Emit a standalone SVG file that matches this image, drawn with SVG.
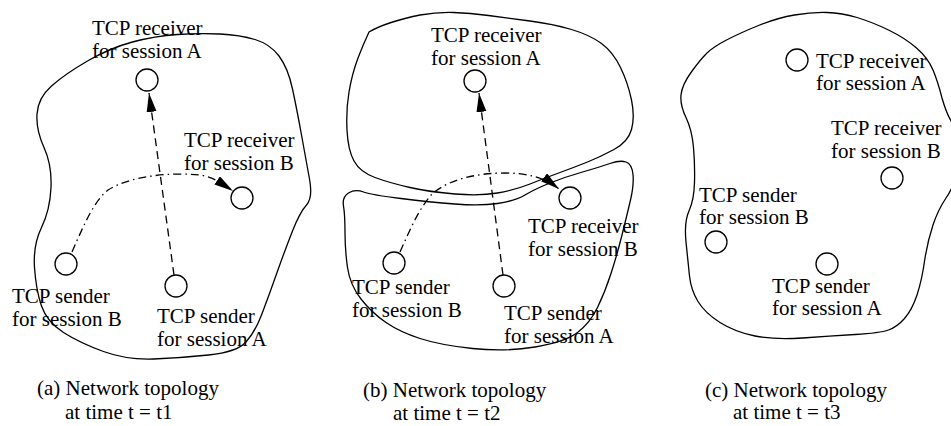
<svg xmlns="http://www.w3.org/2000/svg" width="951" height="426" viewBox="0 0 951 426">
<style>
.region{fill:none;stroke:#000;stroke-width:1.3;stroke-linejoin:round}
.node{fill:#fff;stroke:#000;stroke-width:1.3}
.lbl{font-family:"Liberation Serif","Times New Roman",serif;font-size:21px;fill:#000}
.dash{fill:none;stroke:#000;stroke-width:1.3;stroke-dasharray:8,5}
.dashdot{fill:none;stroke:#000;stroke-width:1.3;stroke-dasharray:8,4,1.5,4}
</style>
<defs>
<marker id="arr" markerUnits="userSpaceOnUse" markerWidth="20" markerHeight="12" refX="19" refY="5" orient="auto">
<path d="M0,0 L19,5 L0,10 Z" fill="#000"/>
</marker>
</defs>
<rect width="951" height="426" fill="#fff"/>

<g id="regions">
<path class="region" d="M 177.5,34.5 Q 200,33 220,34 Q 240,35 255,39.5 Q 270,44 279,56 Q 288,68 292.5,89 Q 297,110 301.5,135 Q 306,160 309.5,179 Q 313,198 306.5,205 Q 300,212 292.5,231 Q 285,250 276.5,274 Q 268,298 261.5,315 Q 255,332 246,342 Q 237,352 208.5,355 Q 180,358 153.5,359 Q 127,360 103.5,351.5 Q 80,343 63.5,332.5 Q 47,322 41.5,306 Q 36,290 34.5,267.5 Q 33,245 41.5,227.5 Q 50,210 51,187.5 Q 52,165 44,147.5 Q 36,130 37,114 Q 38,98 51.5,86 Q 65,74 87.5,61 Q 110,48 132.5,42 Q 155,36 177.5,34.5 Z"/>
<path class="region" d="M 369,32 Q 386,22 420,15 Q 437,12 453.5,12.5 Q 470,13 488.5,15.5 Q 507,18 530,21 Q 553,24 571.5,29.5 Q 590,35 601.5,43.5 Q 613,52 620.5,67.5 Q 628,83 631.5,100 Q 635,117 631.5,129.5 Q 628,142 614,149.5 Q 600,157 587.5,162 Q 575,167 560,172.5 Q 545,178 530,184 Q 515,190 497.5,193 Q 480,196 455,194 Q 430,192 410,187.5 Q 390,183 375,177.5 Q 360,172 354,161 Q 348,150 347,130 Q 346,110 349,92 Q 352,74 358,58 Q 363,45 369,32 Z"/>
<path class="region" d="M 348.5,193 Q 355,189 363.5,192 Q 372,195 401,198.5 Q 430,202 455,204 Q 480,206 497.5,203.5 Q 515,201 525,195 Q 535,189 550,183 Q 565,177 582.5,172 Q 600,167 610,163.5 Q 620,160 626,162 Q 632,164 633,174.5 Q 634,185 630.5,200 Q 627,215 622,235 Q 617,255 611,273.5 Q 605,292 597.5,307.5 Q 590,323 577.5,332.5 Q 565,342 535,347 Q 505,352 472.5,348.5 Q 440,345 420,338.5 Q 400,332 386,322.5 Q 372,313 361,299 Q 350,285 347.5,267.5 Q 345,250 345,232.5 Q 345,215 343.5,206 Q 342,197 348.5,193 Z"/>
<path class="region" d="M 726.5,40 Q 740,33 758.5,25.5 Q 777,18 794.5,15 Q 812,12 827,12.5 Q 842,13 857,17.5 Q 872,22 888.5,30 Q 905,38 916.5,48 Q 928,58 933,70 Q 938,82 942,98 Q 946,112 950.5,120 Q 956,130 957,145 Q 958,160 956,175 Q 953,188 946,198 Q 938,210 933,225 Q 928,240 925,258 Q 922,280 917,295 Q 912,310 904.5,318.5 Q 897,327 888.5,330 Q 880,333 855,334.5 Q 830,336 802.5,338 Q 775,340 755,336 Q 735,332 720,322.5 Q 705,313 698,301.5 Q 691,290 689.5,276 Q 688,262 686,242 Q 684,222 689,211 Q 694,200 694.5,182.5 Q 695,165 693.5,147.5 Q 692,130 686,117.5 Q 680,105 681,95 Q 682,85 691,72.5 Q 700,60 706.5,53.5 Q 713,47 726.5,40 Z"/>
</g>

<g id="connectors">
<path class="dash" d="M 174,275 L 149,93" marker-end="url(#arr)"/>
<path class="dashdot" d="M 72,252 C 85,222 95,200 108,190 C 130,176 170,172 200,175 C 214,177 224,185 233,191" marker-end="url(#arr)"/>
<path class="dash" d="M 503,275 L 479,93" marker-end="url(#arr)"/>
<path class="dashdot" d="M 400,252 C 410,230 418,210 432,194 C 448,180 475,173 505,173 C 528,173 545,178 559,189" marker-end="url(#arr)"/>
</g>

<g id="a-recvA"><circle class="node" cx="147" cy="80" r="11"/><text class="lbl" x="92" y="35">TCP receiver</text><text class="lbl" x="92" y="58">for session A</text></g>
<g id="a-recvB"><circle class="node" cx="242" cy="198" r="11"/><text class="lbl" x="184" y="147">TCP receiver</text><text class="lbl" x="184" y="170">for session B</text></g>
<g id="a-sendB"><circle class="node" cx="66" cy="264" r="11"/><text class="lbl" x="12" y="303">TCP sender</text><text class="lbl" x="12" y="326">for session B</text></g>
<g id="a-sendA"><circle class="node" cx="176" cy="286" r="11"/><text class="lbl" x="157" y="323">TCP sender</text><text class="lbl" x="157" y="346">for session A</text></g>

<g id="b-recvA"><circle class="node" cx="475" cy="81" r="11"/><text class="lbl" x="431" y="42">TCP receiver</text><text class="lbl" x="431" y="65">for session A</text></g>
<g id="b-recvB"><circle class="node" cx="570" cy="198" r="11"/><text class="lbl" x="528" y="233">TCP receiver</text><text class="lbl" x="528" y="256">for session B</text></g>
<g id="b-sendB"><circle class="node" cx="394" cy="263" r="11"/><text class="lbl" x="352" y="294">TCP sender</text><text class="lbl" x="352" y="317">for session B</text></g>
<g id="b-sendA"><circle class="node" cx="504" cy="286" r="11"/><text class="lbl" x="504" y="320">TCP sender</text><text class="lbl" x="504" y="343">for session A</text></g>

<g id="c-recvA"><circle class="node" cx="797" cy="60" r="11"/><text class="lbl" x="816" y="68">TCP receiver</text><text class="lbl" x="816" y="90">for session A</text></g>
<g id="c-recvB"><circle class="node" cx="892" cy="178" r="11"/><text class="lbl" x="831" y="135">TCP receiver</text><text class="lbl" x="831" y="158">for session B</text></g>
<g id="c-sendB"><circle class="node" cx="716" cy="242" r="11"/><text class="lbl" x="699" y="202">TCP sender</text><text class="lbl" x="699" y="224">for session B</text></g>
<g id="c-sendA"><circle class="node" cx="827" cy="264" r="11"/><text class="lbl" x="772" y="293">TCP sender</text><text class="lbl" x="772" y="315">for session A</text></g>

<g id="captions">
<text class="lbl" x="37" y="395">(a) Network topology</text><text class="lbl" x="65" y="419">at time t = t1</text>
<text class="lbl" x="363" y="397">(b) Network topology</text><text class="lbl" x="393" y="420">at time t = t2</text>
<text class="lbl" x="705" y="397">(c) Network topology</text><text class="lbl" x="733" y="419">at time t = t3</text>
</g>
</svg>
